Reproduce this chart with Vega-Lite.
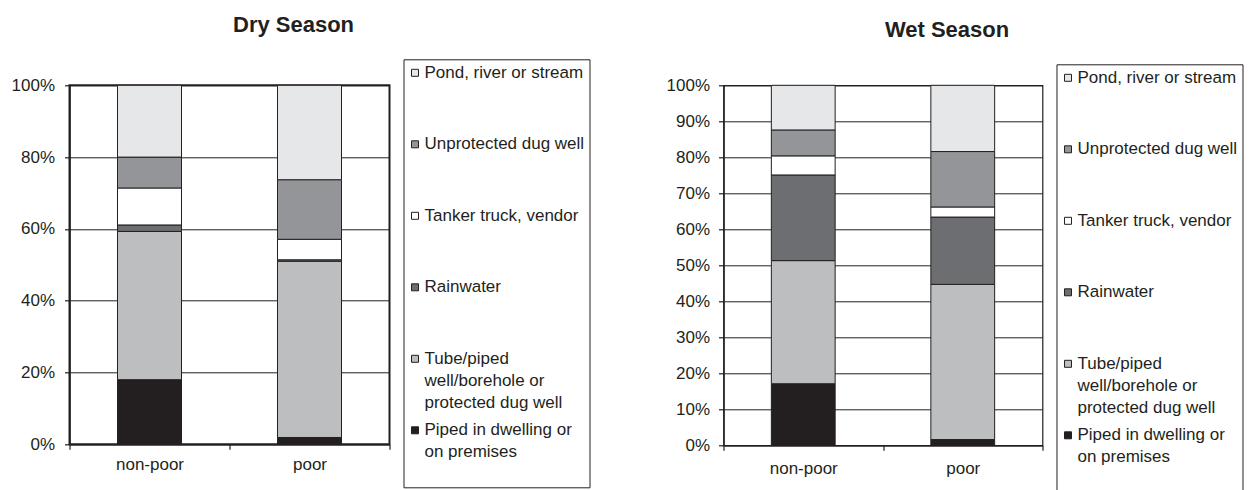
{
  "$schema": "https://vega.github.io/schema/vega-lite/v6.json",
  "background": "white",
  "padding": {"left": 9.5, "top": 12.3, "right": 0, "bottom": 0},
  "bounds": "flush",
  "spacing": 334,
  "datasets": {
    "dry": [
      {"group": "non-poor", "source": "Piped in dwelling or on premises", "share": 18.0},
      {"group": "non-poor", "source": "Tube/piped well/borehole or protected dug well", "share": 41.3},
      {"group": "non-poor", "source": "Rainwater", "share": 1.8},
      {"group": "non-poor", "source": "Tanker truck, vendor", "share": 10.3},
      {"group": "non-poor", "source": "Unprotected dug well", "share": 8.6},
      {"group": "non-poor", "source": "Pond, river or stream", "share": 20.0},
      {"group": "poor", "source": "Piped in dwelling or on premises", "share": 1.9},
      {"group": "poor", "source": "Tube/piped well/borehole or protected dug well", "share": 49.1},
      {"group": "poor", "source": "Rainwater", "share": 0.4},
      {"group": "poor", "source": "Tanker truck, vendor", "share": 5.7},
      {"group": "poor", "source": "Unprotected dug well", "share": 16.6},
      {"group": "poor", "source": "Pond, river or stream", "share": 26.3}
    ],
    "wet": [
      {"group": "non-poor", "source": "Piped in dwelling or on premises", "share": 17.1},
      {"group": "non-poor", "source": "Tube/piped well/borehole or protected dug well", "share": 34.2},
      {"group": "non-poor", "source": "Rainwater", "share": 23.8},
      {"group": "non-poor", "source": "Tanker truck, vendor", "share": 5.3},
      {"group": "non-poor", "source": "Unprotected dug well", "share": 7.2},
      {"group": "non-poor", "source": "Pond, river or stream", "share": 12.4},
      {"group": "poor", "source": "Piped in dwelling or on premises", "share": 1.6},
      {"group": "poor", "source": "Tube/piped well/borehole or protected dug well", "share": 43.1},
      {"group": "poor", "source": "Rainwater", "share": 18.7},
      {"group": "poor", "source": "Tanker truck, vendor", "share": 2.8},
      {"group": "poor", "source": "Unprotected dug well", "share": 15.4},
      {"group": "poor", "source": "Pond, river or stream", "share": 18.4}
    ]
  },
  "config": {
    "font": "Liberation Sans",
    "axis": {
      "labelFont": "Liberation Sans",
      "labelFontSize": 17,
      "labelColor": "#231f20",
      "domainColor": "#231f20",
      "domainWidth": 1.5,
      "tickColor": "#231f20",
      "tickSize": 5,
      "tickWidth": 1.2,
      "gridColor": "#231f20",
      "gridWidth": 1,
      "gridOpacity": 1
    },
    "legend": {
      "labelFont": "Liberation Sans",
      "labelFontSize": 17,
      "labelColor": "#231f20",
      "labelLimit": 400,
      "labelOffset": 1,
      "symbolOffset": -2,
      "labelBaseline": "alphabetic",
      "symbolType": "square",
      "symbolSize": 49,
      "symbolStrokeColor": "#231f20",
      "symbolStrokeWidth": 1,
      "symbolOpacity": 1,
      "gridAlign": "all",
      "rowPadding": 9.5,
      "padding": 5,
      "strokeColor": "#231f20",
      "fillColor": "white"
    },
    "title": {"font": "Liberation Sans", "fontSize": 22, "fontWeight": "bold", "color": "#231f20", "baseline": "bottom"}
  },
  "resolve": {"scale": {"color": "independent"}, "legend": {"color": "independent"}},
  "hconcat": [
    {
      "width": 320,
      "height": 359,
      "data": {"name": "dry"},
      "transform": [{"window": [{"op": "row_number", "as": "stack_rank"}]}],
      "title": {"text": "Dry Season", "dx": 64, "offset": 21.7},
      "view": {"stroke": "#231f20", "strokeWidth": 2},
      "mark": {"type": "bar", "stroke": "#231f20", "strokeWidth": 1, "width": {"band": 0.4}},
      "encoding": {
        "x": {
          "field": "group", "type": "nominal",
          "scale": {"paddingInner": 0, "paddingOuter": 0},
          "axis": {"title": null, "labelAngle": 0, "tickBand": "extent", "grid": false, "labelPadding": 7.5}
        },
        "y": {
          "field": "share", "type": "quantitative", "stack": "normalize",
          "scale": {"domain": [0, 1]},
          "axis": {"title": null, "values": [0, 0.2, 0.4, 0.6, 0.8, 1], "format": ".0%", "grid": true, "labelPadding": 10}
        },
        "order": {"field": "stack_rank", "type": "quantitative", "sort": "ascending"},
        "color": {
          "field": "source", "type": "nominal",
          "scale": {
            "domain": ["Pond, river or stream", "Unprotected dug well", "Tanker truck, vendor", "Rainwater", "Tube/piped well/borehole or protected dug well", "Piped in dwelling or on premises"],
            "range": ["#e6e7e8", "#939598", "#ffffff", "#6d6e71", "#bcbec0", "#231f20"]
          },
          "legend": {
            "title": null,
            "orient": "none",
            "legendX": 334,
            "legendY": -26,
            "labelExpr": "datum.label == 'Tube/piped well/borehole or protected dug well' ? ['Tube/piped', 'well/borehole or', 'protected dug well'] : datum.label == 'Piped in dwelling or on premises' ? ['Piped in dwelling or', 'on premises', ''] : datum.label",
            "encode": {"labels": {"update": {"dy": {"value": 5}, "lineHeight": {"value": 22}}}}
          }
        }
      }
    },
    {
      "width": 319,
      "height": 360,
      "data": {"name": "wet"},
      "transform": [{"window": [{"op": "row_number", "as": "stack_rank"}]}],
      "title": {"text": "Wet Season", "dx": 64, "offset": 21.6},
      "view": {"stroke": "#231f20", "strokeWidth": 1.2},
      "mark": {"type": "bar", "stroke": "#231f20", "strokeWidth": 1, "width": {"band": 0.4}},
      "encoding": {
        "x": {
          "field": "group", "type": "nominal",
          "scale": {"paddingInner": 0, "paddingOuter": 0},
          "axis": {"title": null, "labelAngle": 0, "tickBand": "extent", "grid": false, "labelPadding": 10.5}
        },
        "y": {
          "field": "share", "type": "quantitative", "stack": "normalize",
          "scale": {"domain": [0, 1]},
          "axis": {"title": null, "values": [0, 0.1, 0.2, 0.3, 0.4, 0.5, 0.6, 0.7, 0.8, 0.9, 1], "format": ".0%", "grid": true, "labelPadding": 9}
        },
        "order": {"field": "stack_rank", "type": "quantitative", "sort": "ascending"},
        "color": {
          "field": "source", "type": "nominal",
          "scale": {
            "domain": ["Pond, river or stream", "Unprotected dug well", "Tanker truck, vendor", "Rainwater", "Tube/piped well/borehole or protected dug well", "Piped in dwelling or on premises"],
            "range": ["#e6e7e8", "#939598", "#ffffff", "#6d6e71", "#bcbec0", "#231f20"]
          },
          "legend": {
            "title": null,
            "orient": "none",
            "legendX": 333,
            "legendY": -21,
            "labelExpr": "datum.label == 'Tube/piped well/borehole or protected dug well' ? ['Tube/piped', 'well/borehole or', 'protected dug well'] : datum.label == 'Piped in dwelling or on premises' ? ['Piped in dwelling or', 'on premises', ''] : datum.label",
            "encode": {"labels": {"update": {"dy": {"value": 5}, "lineHeight": {"value": 22}}}}
          }
        }
      }
    }
  ]
}
